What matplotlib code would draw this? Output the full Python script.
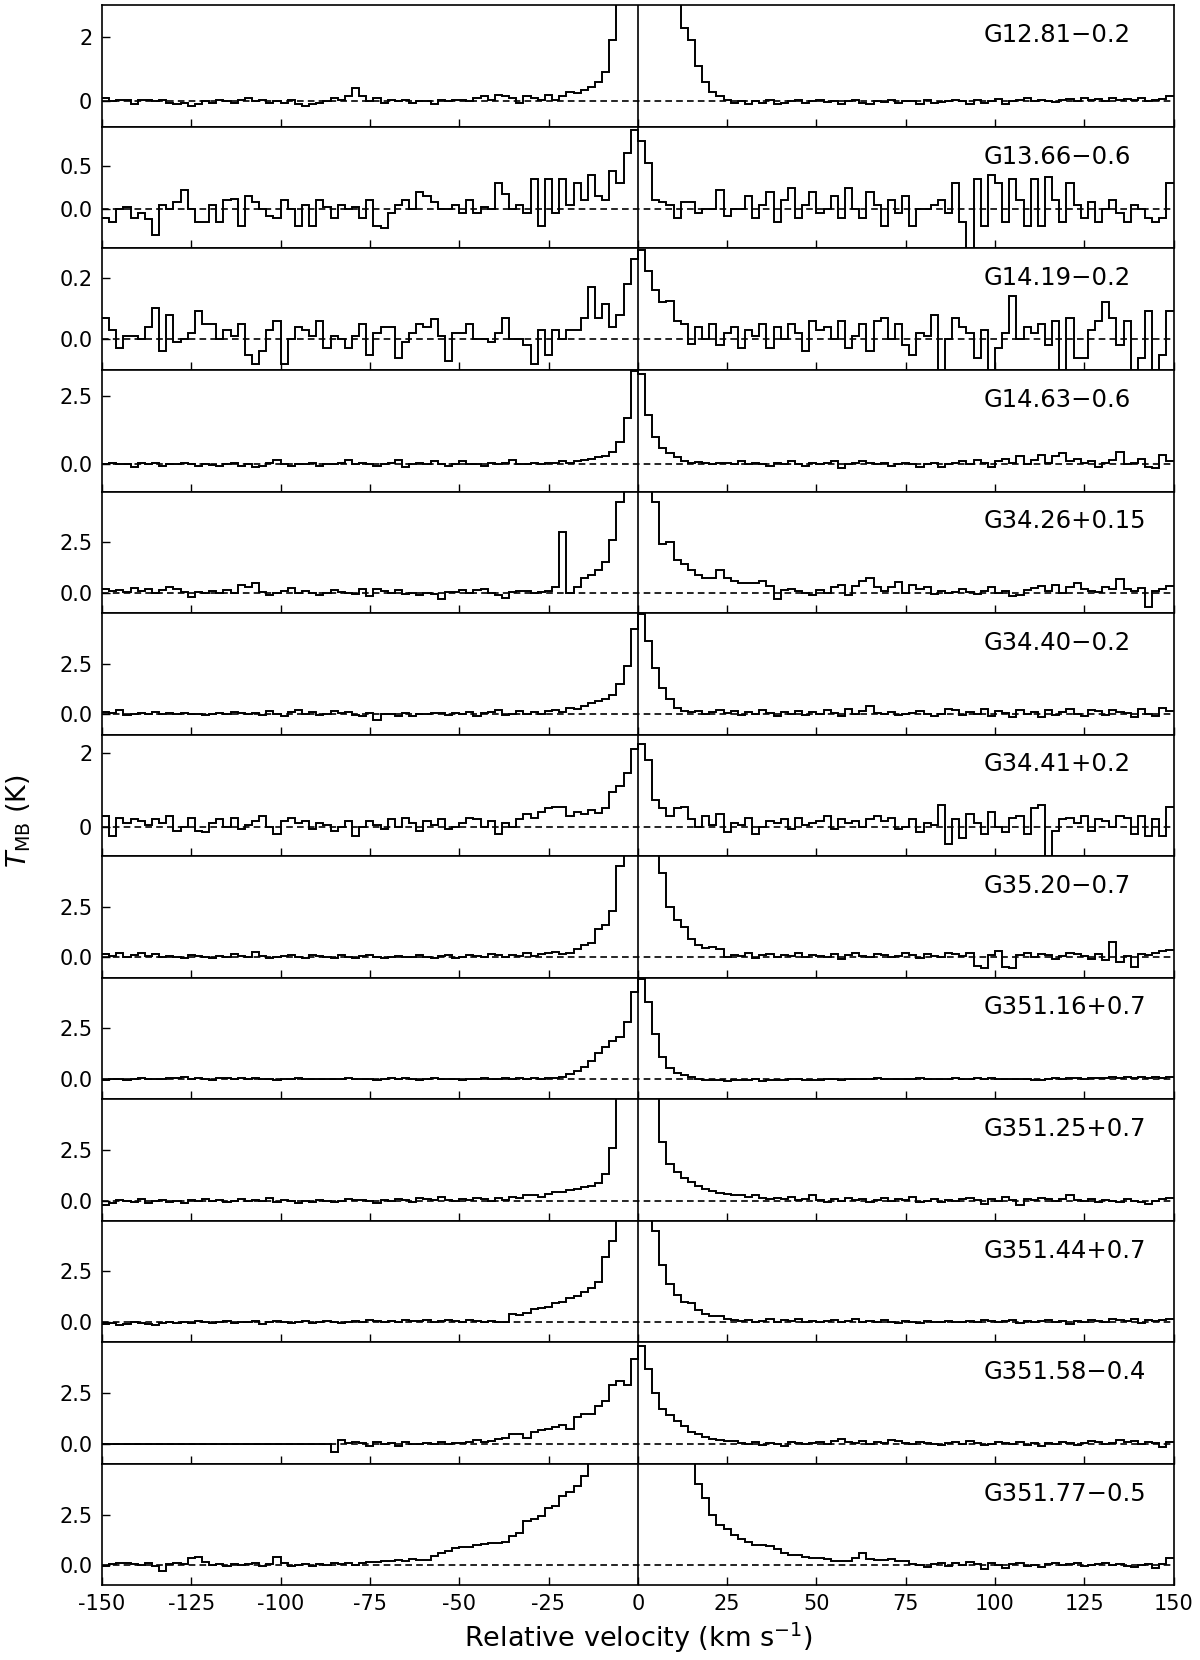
import numpy as np
import matplotlib
matplotlib.use("Agg")
import matplotlib.pyplot as plt

plt.rcParams['font.family'] = ['DejaVu Sans']
plt.rcParams['axes.unicode_minus'] = False

# velocity channels, 2 km/s wide, -150 .. 150
edges = np.arange(-150, 151, 2)

names = ["G12.81\u22120.2", "G13.66\u22120.6", "G14.19\u22120.2", "G14.63\u22120.6",
         "G34.26+0.15", "G34.40\u22120.2", "G34.41+0.2", "G35.20\u22120.7",
         "G351.16+0.7", "G351.25+0.7", "G351.44+0.7", "G351.58\u22120.4",
         "G351.77\u22120.5"]

# spectra, one row = 20 km/s (10 channels); units: hundredths of K unless noted
g1281 = [10, 0, 5, 5, -10, 5, 5, 0, 5, -5,
         -10, -5, -15, -10, 0, -5, 5, 0, -5, 5,
         10, 0, 5, -5, 0, -5, 5, -10, -15, -10,
         -5, 0, 10, 5, 15, 40, 15, 0, 10, -5,
         5, 0, 5, -5, 0, 0, -10, 5, 0, 5,
         5, 0, 10, 15, 5, 20, 15, 10, -5, 15,
         10, 5, 20, 5, 15, 30, 25, 35, 45, 60,
         90, 190, 400, 460, 480, 480, 460, 440, 400, 360,
         330, 230, 190, 110, 60, 30, 15, 5, -5, 0,
         -8, 0, -5, 3, -10, -5, 0, 5, -5, 0,
         5, -3, 0, -8, 0, 3, -5, -10, 0, -3,
         5, -5, 0, 0, -8, 3, -5, -3, 0, 3,
         0, -10, 5, -5, 0, 8, -10, 0, 5, 10,
         0, 3, 0, -3, 5, 8, 0, 10, 5, 8,
         0, 10, 5, 8, 3, 10, 0, 5, 8, 15]

g1366 = [-10, -15, 0, 2, -10, -5, -12, -30, 5, 0,
         8, 22, 0, -15, -15, 5, -15, 10, 12, -20,
         15, 8, 0, -8, -10, 10, 0, -20, 5, -20,
         10, 2, -10, 5, 0, 2, -10, 10, -20, -22,
         -5, 5, 10, 0, 20, 15, 8, 0, 0, 5,
         -5, 10, -5, 2, 0, 30, 18, 0, 5, -5,
         35, -20, 35, -5, 35, 5, 30, 10, 40, 15,
         10, 45, 30, 65, 92, 80, 54, 10, 8, 5,
         -10, 8, 8, -5, 0, 0, 22, -8, 0, 0,
         15, -10, 5, 20, -15, 10, 25, -10, 5, 20,
         -5, 0, 15, -10, 25, 0, -10, 20, 5, -20,
         10, -5, 15, -20, 0, 0, 5, 10, -5, 30,
         -15, -50, 35, -20, 40, 30, -15, 35, 10, -20,
         35, -20, 38, 10, -15, 30, 5, -10, 8, -15,
         0, 10, -5, -15, 5, 0, -10, -15, -10, 30]

# thousandths of K
g1419 = [70, 30, -30, 10, 10, 0, 40, 100, -40, 80,
         -10, 0, 20, 90, 50, 50, 0, 30, 10, 50,
         -50, -80, -40, 30, 60, -80, 0, 40, 30, 10,
         60, -30, 10, 0, -30, 10, 50, -50, 20, 40,
         40, -60, -10, 20, 50, 40, 65, 10, -70, 20,
         20, 50, 0, 0, -10, 20, 70, 0, 0, -20,
         -80, 30, -50, 30, 0, 30, 30, 70, 170, 70,
         115, 40, 80, 180, 260, 290, 220, 160, 120, 125,
         60, 50, -15, 40, 0, 50, -20, 20, 40, -30,
         30, 10, 50, -30, 40, 0, 50, 20, -40, 60,
         30, 40, 0, 60, -30, 10, 50, -40, 60, 70,
         0, 50, -20, -50, 20, 10, 80, -100, 0, 70,
         40, 20, -60, 30, -100, -30, 20, 140, 0, 40,
         20, 50, -20, 60, -100, 70, -60, -60, 30, 60,
         120, 70, -20, 60, -100, -60, 90, -100, -50, 90]

g1463 = [0, 5, 0, 0, -10, 5, 0, 5, -5, 0,
         0, 5, 0, -5, 0, -3, -5, 0, 5, -5,
         0, -10, -5, 5, 15, 0, -5, 0, 0, 5,
         -5, 0, 0, 5, 15, 0, 5, 0, -5, 0,
         5, 15, -10, 0, 5, 0, 10, 0, -5, 0,
         10, 0, 0, -5, 5, 0, 5, 15, 0, 0,
         5, 0, 5, 5, 10, 5, 10, 15, 20, 25,
         30, 45, 80, 170, 340, 330, 180, 100, 60, 40,
         25, 10, 5, 8, 5, 0, 5, 3, 0, 10,
         0, 5, 0, -5, 5, 0, 10, 0, -5, 5,
         0, 5, 10, -15, 0, 5, 10, 5, 0, 5,
         -5, 0, 5, 0, -10, 0, 5, -10, 0, 5,
         10, 0, 15, 5, -10, 10, 20, 5, 30, 0,
         15, 35, 5, 30, 40, 10, 20, 5, 10, -10,
         5, 15, 45, 0, 5, 20, -10, -15, 35, 10]

g3426 = [20, 10, 15, 5, 25, 10, 20, 0, 15, 30,
         20, 5, -20, 5, 0, 10, 0, 15, 0, 40,
         30, 50, 5, -10, 0, 10, 25, 0, 10, 0,
         -10, 0, 15, 5, 0, -5, 20, -15, 20, 10,
         0, 15, -5, 0, -10, 0, -5, -30, 5, 5,
         15, 0, 15, 20, 0, -10, -25, 5, 10, 10,
         0, 5, 10, 30, 300, 0, 30, 74, 90, 115,
         150, 260, 450, 600, 700, 680, 600, 450, 240, 250,
         160, 140, 115, 90, 74, 75, 115, 74, 60, 50,
         50, 50, 60, 35, -30, 15, 20, 10, 0, -10,
         15, 0, 30, 40, -10, 35, 60, 75, 30, 10,
         30, 55, 0, 40, 20, 30, -5, 10, 0, 5,
         20, 5, -5, 10, 30, 0, 10, -15, -10, 15,
         25, 35, 10, 40, 0, 30, 50, 20, 10, 5,
         30, 20, 70, 20, 10, 25, -70, 10, 20, 35]

g3440 = [10, 5, 20, -5, 0, 5, 0, 10, 0, 5,
         0, 5, 0, 0, -5, 0, 5, 0, 10, 5,
         0, 5, -5, 15, 0, -10, 10, 20, 0, 10,
         -5, 0, 15, 5, 10, -5, -10, 5, -30, 0,
         0, -10, 5, -10, 0, 0, 5, 5, -5, 5,
         0, 10, -10, 5, 10, 20, -5, 0, 15, 0,
         10, 0, 15, 20, 10, 30, 25, 40, 55, 65,
         75, 95, 150, 240, 420, 495, 360, 230, 130, 75,
         33, 15, 10, 15, 0, 10, 20, 5, 15, -5,
         10, 0, 20, 5, -10, 10, 0, 15, -5, 10,
         0, 20, 5, -10, 25, 0, 15, 40, 5, 0,
         10, -5, 0, 5, 15, 0, -10, 0, 25, 20,
         -5, 10, 0, 25, -10, 15, 5, -15, 20, 0,
         10, -15, 20, -5, 10, 25, 0, -10, 20, 15,
         -5, 20, 10, 5, -15, 25, 0, -10, 30, 15]

g3441 = [30, -25, 25, 10, 20, 15, 5, 20, 10, 30,
         -10, 0, 25, -10, -15, 10, 20, 0, 25, -5,
         5, 15, 30, 0, -20, 15, 25, 10, 15, -5,
         10, 5, -10, 0, 15, -25, 0, 15, 5, -5,
         20, 0, 25, 10, -10, 15, 5, 20, -5, 0,
         10, 25, 20, 0, 15, -20, 10, 0, 20, 35,
         25, 40, 50, 55, 55, 30, 40, 35, 45, 38,
         50, 95, 110, 145, 210, 225, 180, 72, 50, 29,
         50, 55, 20, 0, 30, 5, 35, -15, 10, 5,
         25, -20, 0, 15, 10, 20, -5, 25, 5, 10,
         15, 30, -5, 20, 10, 15, 0, 20, 30, 15,
         25, -5, 0, 20, -15, 10, 5, 60, -45, 20,
         -30, 35, 10, -20, 40, 0, -15, 25, 30, -20,
         50, 60, -80, -10, 20, 25, 10, 30, -10, 20,
         15, 0, 30, 25, -20, 30, -25, 20, -25, 55]

g3520 = [15, 5, 20, 0, 10, 20, 5, 15, 0, 5,
         0, -5, 10, 5, 0, -5, 5, 0, 15, 5,
         0, 25, 5, -5, 0, 5, 10, 0, -5, 10,
         5, 0, -5, 10, 0, -5, 5, 10, 0, -5,
         0, 5, 0, 0, 10, 0, -5, 5, 10, -5,
         0, 10, 5, 0, 15, 10, 0, 10, 5, 20,
         5, 15, 20, 25, 15, 20, 40, 60, 70, 140,
         160, 230, 450, 600, 620, 610, 580, 550, 417, 250,
         185, 150, 90, 60, 45, 50, 40, 0, 10, 5,
         20, -5, 10, 15, 0, 10, 5, 20, 0, 10,
         5, 0, 15, -10, 10, 20, 5, 0, 15, 10,
         0, 5, 20, 10, -5, 15, 5, 0, 20, 15,
         5, 20, -40, -50, 10, 30, -45, -50, 10, 20,
         0, 15, 10, -10, 5, 20, 15, 5, -10, 15,
         -15, 75, -20, 5, -45, 15, 10, 20, 30, 35]

g35116 = [-5, 0, 0, -3, 0, 3, 0, 2, 0, 3,
          5, 8, 0, 3, 0, -3, 3, 5, 0, 3,
          0, 3, 0, 2, -3, 0, 0, 3, 0, 2,
          0, 0, -2, 0, 3, 0, 0, 2, -3, 0,
          3, 0, 5, 0, -3, 0, 3, 0, 0, 2,
          -3, 0, 0, 3, 0, 0, 5, 0, 3, 0,
          5, 0, 5, 5, 10, 25, 40, 60, 90, 130,
          160, 190, 205, 280, 430, 495, 380, 220, 110, 55,
          30, 20, 8, 2, -3, -5, -3, -8, -5, -3,
          -5, -2, -8, -5, -3, -5, -2, 0, -3, -5,
          -3, 0, -2, -3, 0, -2, 2, 0, 3, 0,
          -2, 0, 2, 0, 3, 0, -2, 2, 0, 3,
          0, 2, 5, 0, 3, 0, -2, 0, 2, 0,
          -3, -5, 0, 3, 0, 5, 3, 0, 5, 3,
          5, 8, 5, 10, 5, 8, 3, 8, 5, 10]

g35125 = [-20, -10, 5, 0, -5, 10, -10, 0, 5, -5,
          0, -10, 5, 0, 10, 0, 5, -5, 0, 10,
          0, 5, 0, 15, -5, 5, 0, -10, 0, -5,
          5, 0, -5, 0, 10, 5, 5, 0, -10, 5,
          0, 10, 5, -5, 15, 10, 5, 20, 5, 0,
          10, 5, 15, 10, 0, 15, 5, 20, 15, 25,
          25, 20, 30, 40, 40, 50, 55, 65, 70, 85,
          130, 260, 550, 600, 600, 600, 600, 600, 290, 180,
          140, 110, 90, 70, 55, 45, 35, 30, 28, 25,
          20, 25, 15, 10, 15, 10, 20, 5, 10, 25,
          5, -5, 10, 0, 15, 5, 10, -5, 5, 15,
          0, 10, 5, 20, -5, 0, 10, -5, 5, 0,
          10, 15, 5, -15, 10, 0, 20, 5, -20, 10,
          5, 15, 10, 0, 10, 25, 5, 0, 10, -5,
          5, 0, -5, 10, 0, -5, -15, 0, 10, 15]

g35144 = [-10, -5, -15, -10, 0, -5, -10, -15, -5, 0,
          -5, 0, -5, 5, 0, -5, 0, 5, -5, 0,
          0, 5, -10, 0, 5, 0, -5, 0, 5, -5,
          0, 5, 0, -5, 0, 5, 0, 10, 5, 0,
          5, 0, 10, 5, 5, 10, 0, 5, 10, 5,
          0, 10, 5, 0, 5, 0, 0, 40, 35, 45,
          65, 70, 75, 95, 100, 120, 130, 150, 170, 200,
          320, 400, 550, 600, 600, 600, 600, 450, 280, 190,
          135, 100, 95, 60, 40, 32, 30, 15, 8, 5,
          10, 0, 5, 15, 0, 10, 5, 15, 0, 5,
          0, 5, 10, 0, 5, 15, 0, 5, 0, 10,
          0, -5, 5, 0, -5, 5, 0, 0, 5, 0,
          0, 5, 0, 10, 5, 0, 5, 10, -5, 5,
          0, 5, 10, 0, 5, -10, 5, 0, 10, 5,
          0, 15, 10, 5, 15, -5, 10, 5, 10, 15]

g35158 = [0, 0, 0, 0, 0, 0, 0, 0, 0, 0,
          0, 0, 0, 0, 0, 0, 0, 0, 0, 0,
          0, 0, 0, 0, 0, 0, 0, 0, 0, 0,
          0, 0, -40, 20, 5, 10, 5, -10, 10, 0,
          5, -10, 10, 0, 0, 5, 0, 10, 0, 5,
          5, 10, 20, 10, 15, 25, 30, 50, 50, 30,
          60, 65, 70, 80, 90, 70, 130, 145, 145, 185,
          210, 290, 310, 290, 420, 480, 370, 250, 170, 140,
          110, 87, 60, 50, 35, 25, 20, 15, 12, 5,
          0, 10, -5, 5, 0, -10, 10, 5, 0, 5,
          10, 0, 15, 25, 10, 5, 15, 0, 10, 5,
          20, 15, 5, 0, 10, 5, 0, -5, 5, 10,
          0, 15, 5, -5, 0, 10, 5, 0, 10, -5,
          5, -10, 5, 0, 10, 5, -5, 5, 15, 10,
          0, 5, 20, 10, 15, 0, 10, 5, -15, 10]

g35177 = [-5, 5, 10, 10, 5, 0, 10, -5, -30, 5,
          10, 5, 35, 40, 15, 0, 5, -5, 5, 0,
          5, 10, -5, 5, 40, 10, -5, 0, 5, -5,
          5, 0, 10, 5, 10, 0, 10, 15, 15, 20,
          20, 25, 20, 30, 25, 25, 45, 60, 70, 85,
          90, 90, 100, 105, 110, 110, 115, 145, 160, 220,
          230, 245, 280, 290, 340, 360, 390, 440, 600, 600,
          600, 600, 600, 600, 600, 600, 600, 600, 600, 600,
          600, 600, 550, 400, 330, 250, 200, 180, 150, 130,
          115, 100, 100, 95, 78, 60, 48, 48, 42, 36,
          36, 30, 20, 22, 20, 35, 60, 30, 28, 25,
          30, 20, 20, 5, 0, -10, 5, 10, -5, 10,
          0, 15, 5, -20, 10, 0, -15, 5, 10, -5,
          0, -10, 5, 10, 0, 5, 10, -5, 0, 5,
          10, 0, 5, -5, -10, 0, 5, -15, 5, 35]

spectra = [g1281, g1366, g1419, g1463, g3426, g3440, g3441, g3520,
           g35116, g35125, g35144, g35158, g35177]
units = [0.01, 0.01, 0.001] + [0.01] * 10

ylims = [(-0.8, 3.0), (-0.46, 0.96), (-0.1, 0.295), (-1.0, 3.45), (-1, 5), (-1, 5),
         (-0.79, 2.49), (-1, 5), (-1, 5), (-1, 5), (-1, 5), (-1, 5), (-1, 5)]
yticks = [[0, 2], [0.0, 0.5], [0.0, 0.2], [0.0, 2.5], [0.0, 2.5], [0.0, 2.5],
          [0, 2], [0.0, 2.5], [0.0, 2.5], [0.0, 2.5], [0.0, 2.5], [0.0, 2.5], [0.0, 2.5]]
ytick_labels = [["0", "2"], ["0.0", "0.5"], ["0.0", "0.2"]] + [["0.0", "2.5"]] * 3 + \
               [["0", "2"]] + [["0.0", "2.5"]] * 6

fig = plt.figure(figsize=(12, 16.6), dpi=100)
gs = fig.add_gridspec(13, 1, left=0.085, right=0.978, top=0.9968, bottom=0.0449, hspace=0)

for i in range(13):
    ax = fig.add_subplot(gs[i])
    vals = np.array(spectra[i]) * units[i]
    ax.stairs(vals, edges, color='k', lw=1.4, baseline=None)
    ax.axhline(0, color='k', ls=(0, (4, 2.5)), lw=1.2)
    ax.axvline(0, color='k', lw=1.2)
    ax.set_xlim(-150, 150)
    ax.set_ylim(*ylims[i])
    ax.set_yticks(yticks[i])
    ax.set_yticklabels(ytick_labels[i])
    ax.set_xticks(np.arange(-150, 151, 25))
    ax.tick_params(axis='both', direction='in', length=6, width=1.0, labelsize=15)
    ax.tick_params(axis='y', pad=7)
    ax.tick_params(axis='x', pad=6)
    for sp in ax.spines.values():
        sp.set_linewidth(1.2)
    if i < 12:
        ax.tick_params(axis='x', labelbottom=False)
    ax.text(0.823, 0.755, names[i], transform=ax.transAxes, fontsize=17.5,
            ha='left', va='center')

ax.set_xlabel("Relative velocity (km s$^{-1}$)", fontsize=19.5, labelpad=5)
fig.text(0.004, 1 - 821 / 1660, "$T_{\\rm MB}$ (K)", rotation=90, fontsize=19.5,
         ha='left', va='center')

fig.savefig("out.png", dpi=100)
